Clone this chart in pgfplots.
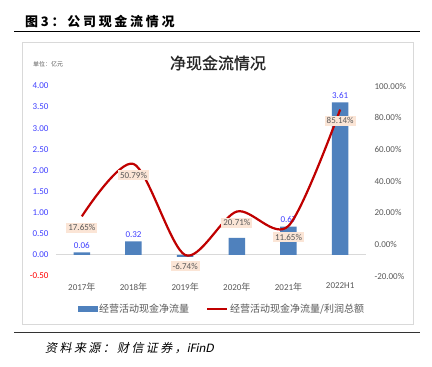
\documentclass[border=0pt]{standalone}
\usepackage{pgfplots}
\pgfplotsset{compat=1.18}
\usepackage{fontspec}
\setmainfont{Carlito}
\newfontfamily\cjk{Noto Sans CJK SC}
\newfontfamily\cjktitle[FakeBold=0.8]{Noto Sans CJK SC}
\newfontfamily\cjkhead[LetterSpace=21]{Noto Sans CJK SC}
\newfontfamily\cjksrc[FakeSlant=0.2,LetterSpace=20]{Noto Sans CJK SC}
\newfontfamily\srclat[FakeSlant=0.2]{Carlito}
\definecolor{barblue}{HTML}{4F81BD}
\definecolor{linered}{HTML}{C00000}
\definecolor{lblfill}{HTML}{FBE5D6}
\definecolor{txtgray}{HTML}{595959}
\definecolor{tickblue}{HTML}{4040FF}
\definecolor{boxgray}{HTML}{D9D9D9}
\begin{document}
\begin{tikzpicture}[x=1pt,y=1pt]
\path[use as bounding box] (0,0) rectangle (432,367);
\fill[white] (0,0) rectangle (432,367);
\node[anchor=west, inner sep=0] at (25,345) {\cjkhead\bfseries\fontsize{13}{15}\selectfont 图3：公司现金流情况};
\draw[line width=1pt] (14,335) -- (420,335);
\draw[boxgray, line width=0.8pt] (22,43) rectangle (413,325);
\node[text=black!85] at (218,304) {\cjktitle\fontsize{16}{18}\selectfont 净现金流情况};
\node[anchor=west,inner sep=0, text=txtgray] at (33,303) {\cjk\fontsize{6}{7}\selectfont 单位：亿元};
\draw[line width=1pt, black!80] (14,34) -- (420,34);
\node[anchor=west,inner sep=0] at (45,19) {\cjksrc\fontsize{12}{14}\selectfont 资料来源：财信证券，\srclat\fontsize{13}{14}\selectfont iFinD};

\begin{axis}[at={(56pt,91pt)}, anchor=south west, scale only axis, width=310pt, height=190pt,
  xmin=-0.5, xmax=5.5, ymin=-0.5, ymax=4,
  axis line style={draw=none}, tick style={draw=none},
  xtick={0,1,2,3,4,5},
  xticklabels={2017{\cjk 年},2018{\cjk 年},2019{\cjk 年},2020{\cjk 年},2021{\cjk 年},2022H1},
  x tick label style={font=\fontsize{9}{10}\selectfont, text=txtgray, yshift=-3pt},
  ytick={-0.5,0,0.5,1,1.5,2,2.5,3,3.5,4},
  yticklabels={{\color{red}-0.50},0.00,0.50,1.00,1.50,2.00,2.50,3.00,3.50,4.00},
  y tick label style={font=\fontsize{9}{10}\selectfont, text=tickblue, xshift=-4pt},
  clip=false]
\draw[boxgray, line width=0.8pt] (axis cs:-0.5,0) -- (axis cs:5.5,0);
\addplot[ybar, bar width=16.5pt, fill=barblue, draw=none] coordinates {(0,0.06) (1,0.32) (2,-0.05) (3,0.40) (4,0.67) (5,3.61)};
\addplot[draw=none, nodes near coords={\pgfmathprintnumber[fixed,fixed zerofill,precision=2,assume math mode=true]{\pgfplotspointmeta}},
  every node near coord/.append style={font=\fontsize{9}{10}\selectfont, text=tickblue, anchor=south}]
  coordinates {(0,0.06) (1,0.32) (4,0.67) (5,3.61)};
\end{axis}

\begin{axis}[at={(56pt,91pt)}, anchor=south west, scale only axis, width=310pt, height=190pt,
  xmin=-0.5, xmax=5.5, ymin=-20, ymax=100,
  axis line style={draw=none}, tick style={draw=none},
  xtick=\empty, ytick={-20,0,20,40,60,80,100}, yticklabel pos=right,
  /pgf/number format/assume math mode=true,
  yticklabel={\pgfmathprintnumber[fixed,fixed zerofill,precision=2]{\tick}\%},
  y tick label style={font=\fontsize{9}{10}\selectfont, text=txtgray, xshift=5pt},
  clip=false,
  legend columns=2,
  legend style={at={(0.535,-0.174)}, anchor=center, draw=none, fill=none,
    font=\cjk\fontsize{10}{12}\selectfont, text=txtgray,
    /tikz/every even column/.append style={column sep=15pt}},
  ]
\addplot[smooth, linered, line width=2.2pt, forget plot] coordinates {(0,17.65) (1,50.79) (2,-6.74) (3,20.71) (4,11.65) (5,85.14)};
\addplot[draw=none, forget plot, nodes near coords={\pgfmathprintnumber[fixed,fixed zerofill,precision=2]{\pgfplotspointmeta}\%},
  every node near coord/.append style={font=\fontsize{9}{10}\selectfont, text=txtgray, fill=lblfill, anchor=north, yshift=-6pt, inner sep=2pt}]
  coordinates {(0,17.65) (1,50.79) (2,-6.74) (3,20.71) (4,11.65) (5,85.14)};
\addlegendimage{legend image code/.code={\fill[barblue] (0pt,-2.5pt) rectangle (19pt,2.5pt);}}
\addlegendentry{经营活动现金净流量}
\addlegendimage{legend image code/.code={\draw[linered, line width=2pt] (0pt,0pt) -- (20pt,0pt);}}
\addlegendentry{经营活动现金净流量/利润总额}
\end{axis}
\end{tikzpicture}
\end{document}
